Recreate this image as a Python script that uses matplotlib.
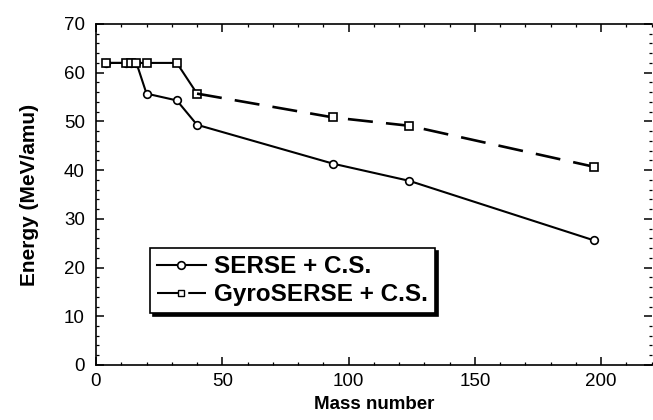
import matplotlib.pyplot as plt
from matplotlib.ticker import MultipleLocator

plt.rcParams['font.family'] = ['Liberation Sans', 'DejaVu Sans']

# mass numbers and energies
mass_serse = [4, 12, 14, 16, 20, 32, 40, 94, 124, 197]
energy_serse = [62, 62, 62, 62, 55.7, 54.3, 49.3, 41.3, 37.8, 25.6]

mass_gyro = [4, 12, 14, 16, 20, 32, 40, 94, 124, 197]
energy_gyro = [62, 62, 62, 62, 62, 62, 55.7, 50.8, 49.1, 40.7]

n_solid = 7  # gyro curve is drawn solid up to A=40, dashed after

fig = plt.figure(figsize=(6.53, 4.2), dpi=100)
ax = fig.add_axes([0.147, 0.131, 0.851, 0.812])

ax.plot(mass_serse, energy_serse, color='black', lw=1.5, marker='o', ms=5.5,
        mfc='white', mec='black', mew=1.2, label='SERSE + C.S.', zorder=3)

ax.plot(mass_gyro[:n_solid], energy_gyro[:n_solid], color='black', lw=1.5,
        marker='s', ms=6, mfc='white', mec='black', mew=1.2, zorder=3)
ax.plot(mass_gyro[n_solid - 1:], energy_gyro[n_solid - 1:], color='black', lw=1.9,
        dashes=(9.5, 5), marker='s', ms=6, mfc='white', mec='black', mew=1.2,
        markevery=[1, 2, 3], zorder=3)
# legend proxy for the gyro curve
ax.plot([], [], color='black', lw=1.5, dashes=(11, 4), marker='s', ms=4,
        mfc='white', mec='black', mew=1.0, label='GyroSERSE + C.S.')

ax.set_xlim(0, 220)
ax.set_ylim(0, 70)
ax.xaxis.set_major_locator(MultipleLocator(50))
ax.xaxis.set_minor_locator(MultipleLocator(10))
ax.yaxis.set_major_locator(MultipleLocator(10))
ax.yaxis.set_minor_locator(MultipleLocator(2))

ax.spines['right'].set_visible(False)
for s in ['left', 'bottom', 'top']:
    ax.spines[s].set_linewidth(1.2)

ax.tick_params(which='both', direction='in', right=True, top=True, labelsize=13.5)
ax.tick_params(which='major', length=5.5, width=1.1)
ax.tick_params(which='minor', length=2.5, width=0.9)
ax.tick_params(axis='y', pad=8)
ax.tick_params(axis='x', pad=6)

ax.set_xlabel('Mass number', fontsize=13.5, fontweight='bold', labelpad=4)
ax.set_ylabel('Energy (MeV/amu)', fontsize=15, fontweight='bold', labelpad=18)

leg = ax.legend(loc='upper left', bbox_to_anchor=(0.097, 0.343),
                prop={'weight': 'bold', 'size': 17.5}, numpoints=1,
                handlelength=2.0, frameon=True, fancybox=False,
                shadow={'color': 'black', 'alpha': 1},
                borderpad=0.3, labelspacing=0.2, handletextpad=0.35,
                borderaxespad=0)
leg.get_frame().set_edgecolor('black')
leg.get_frame().set_linewidth(1.2)

fig.savefig('out.png', dpi=100)
